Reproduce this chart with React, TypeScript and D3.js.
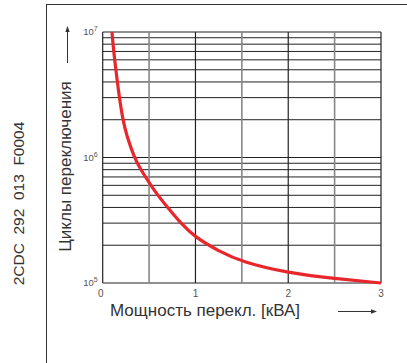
import React from "react";
import * as d3 from "d3";

const powerKVA = [0.1, 0.111, 0.129, 0.158, 0.18, 0.217, 0.258, 0.34, 0.41, 0.52, 0.593, 0.7, 0.84, 1.0, 1.25, 1.5, 2.0, 2.5, 3.0];
const cycles = [1e7, 8e6, 6e6, 4e6, 3e6, 2e6, 1.5e6, 1e6, 8e5, 6e5, 5e5, 4e5, 3e5, 2.3e5, 1.8e5, 1.47e5, 1.2e5, 1.085e5, 1.0e5];
const xTicks = [0, 1, 2, 3];
const xGrid = [0.5, 1, 1.5, 2, 2.5, 3];
const yDecades = [5, 6, 7];

const W = 407, H = 363;
const plot = { left: 102.7, right: 381, top: 32, bottom: 283 };

export default function App() {
  const x = d3.scaleLinear().domain([0, 3]).range([plot.left, plot.right]);
  const y = d3.scaleLog().domain([1e5, 1e7]).range([plot.bottom, plot.top]);
  const minor: number[] = [];
  for (let d = 5; d < 7; d++) for (let m = 2; m <= 9; m++) minor.push(m * Math.pow(10, d));
  const line = d3
    .line<number>()
    .x((_, i) => x(powerKVA[i]))
    .y((v) => y(v))
    .curve(d3.curveBasis);
  const font = "'Liberation Sans', Arial, Helvetica, sans-serif";
  return (
    <svg width={W} height={H} style={{ position: "absolute", left: 0, top: 0, background: "#fff" }} fontFamily={font}>
      <rect x={0} y={0} width={W} height={H} fill="#fff" />
      {/* frame */}
      <line x1={46} y1={4.5} x2={W} y2={4.5} stroke="#333" strokeWidth={1} />
      <line x1={46.5} y1={4} x2={46.5} y2={H} stroke="#333" strokeWidth={1} />
      {/* side code */}
      <text
        transform={`translate(23.5,${(120 + 287) / 2}) rotate(-90)`}
        textAnchor="middle"
        fontSize={15.5}
        fill="#333"
        style={{ whiteSpace: "pre" }}
      >
        {"2CDC  292  013  F0004"}
      </text>
      {/* horizontal grid */}
      {minor.map((v) => (
        <line key={"m" + v} x1={plot.left} x2={plot.right} y1={y(v)} y2={y(v)} stroke="#222" strokeWidth={1} />
      ))}
      {yDecades.map((d) => (
        <line key={"d" + d} x1={plot.left} x2={plot.right} y1={y(Math.pow(10, d))} y2={y(Math.pow(10, d))} stroke="#222" strokeWidth={1.2} />
      ))}
      {/* vertical grid */}
      {xGrid.map((v) => (
        <line
          key={"v" + v}
          x1={x(v)}
          x2={x(v)}
          y1={plot.top}
          y2={plot.bottom}
          stroke={Number.isInteger(v) ? "#222" : "#888"}
          strokeWidth={Number.isInteger(v) ? 1.2 : 1.6}
        />
      ))}
      <line x1={plot.left} x2={plot.left} y1={plot.top} y2={plot.bottom} stroke="#222" strokeWidth={1.2} />
      {/* curve */}
      <path d={line(cycles) || ""} fill="none" stroke="#e8262b" strokeWidth={3.2} strokeLinecap="butt" />
      {/* y tick labels */}
      {yDecades.map((d) => (
        <text key={"yl" + d} x={plot.left - 5} y={y(Math.pow(10, d)) + 3} textAnchor="end" fontSize={9.5} fill="#555">
          10
          <tspan dy={-4} fontSize={7}>
            {d}
          </tspan>
        </text>
      ))}
      {/* x tick labels */}
      {xTicks.map((t) => (
        <text key={"xl" + t} x={x(t) - (t === 0 ? 2 : 0)} y={297} textAnchor="middle" fontSize={10} fill="#555">
          {t}
        </text>
      ))}
      {/* y title */}
      <text transform={`translate(71,${(83 + 250) / 2}) rotate(-90)`} textAnchor="middle" fontSize={17} fill="#333">
        Циклы переключения
      </text>
      {/* y arrow */}
      <line x1={67.5} x2={67.5} y1={63} y2={30} stroke="#333" strokeWidth={1} />
      <path d="M67.5,26 L65.3,32 L69.7,32 Z" fill="#333" />
      {/* x title */}
      <text x={110} y={316} fontSize={17} fill="#333">
        Мощность перекл. [кВА]
      </text>
      <line x1={338} x2={372} y1={311.5} y2={311.5} stroke="#333" strokeWidth={1} />
      <path d="M377,311.5 L371,309.3 L371,313.7 Z" fill="#333" />
    </svg>
  );
}
